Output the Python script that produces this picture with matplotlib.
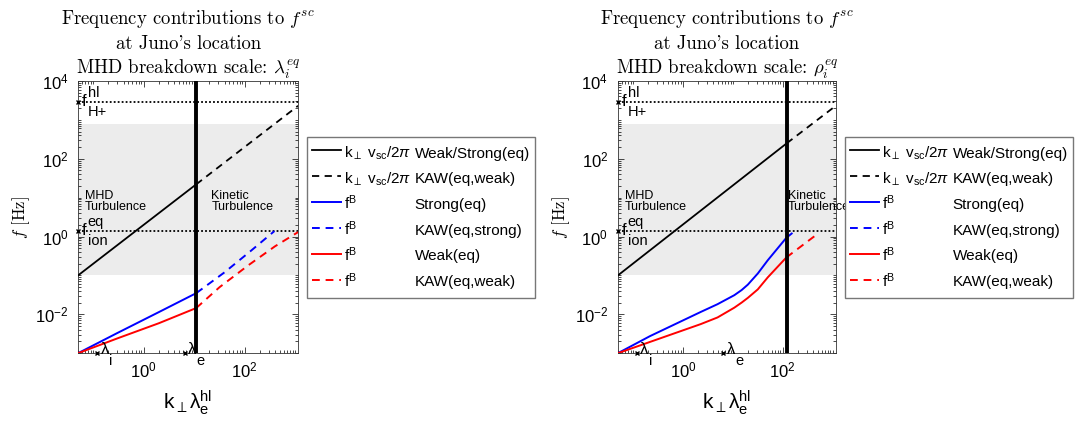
import numpy as np
import matplotlib
matplotlib.use('Agg')
import matplotlib.pyplot as plt
from matplotlib.lines import Line2D
from matplotlib.ticker import FixedLocator, LogLocator, NullFormatter

plt.rcParams['font.family'] = ['Liberation Sans', 'DejaVu Sans']
plt.rcParams['mathtext.fontset'] = 'custom'
plt.rcParams['mathtext.rm'] = 'Liberation Sans'
plt.rcParams['mathtext.it'] = 'Liberation Sans:italic'
plt.rcParams['mathtext.bf'] = 'Liberation Sans:bold'

# ---- data ----
k_lim = [0.05, 1150]
f_lim = [1e-3, 1e4]
f_band = [0.1, 800]          # shaded band
f_H_hl = 2900                # f^hl_H+
f_ion_eq = 1.4               # f^eq_ion
k_lambda_i = 0.12
k_lambda_e = 6.5

# left panel: breakdown at lambda_i^eq
L_break = 11
L_kv_k = [0.05, 11]
L_kv_f = [0.1, 22]
L_kvd_k = [11, 1150]
L_kvd_f = [22, 2300]
L_blue_k = [0.05, 0.3, 2, 11]
L_blue_f = [1e-3, 3.3e-3, 0.0114, 0.035]
L_blued_k = [11, 40, 125, 390]
L_blued_f = [0.035, 0.12, 0.4, 1.38]
L_red_k = [0.05, 0.3, 2, 11]
L_red_f = [1e-3, 2.4e-3, 5.9e-3, 0.0145]
L_redd_k = [11, 32, 117, 400, 1150]
L_redd_f = [0.0145, 0.05, 0.18, 0.56, 1.3]

# right panel: breakdown at rho_i^eq
R_break = 120
R_kv_k = [0.05, 120]
R_kv_f = [0.1, 250]
R_kvd_k = [120, 1150]
R_kvd_f = [250, 2300]
R_blue_k = [0.05, 0.22, 2.28, 4.94, 10.7, 15, 20, 31.6, 50, 118]
R_blue_f = [1e-3, 2.75e-3, 0.0115, 0.0182, 0.031, 0.042, 0.058, 0.112, 0.245, 0.93]
R_blued_k = [118, 170]
R_blued_f = [0.93, 1.35]
R_red_k = [0.05, 0.22, 2.28, 4.94, 10.7, 15, 20, 31.6, 50, 118]
R_red_f = [1e-3, 1.95e-3, 5.6e-3, 8.3e-3, 0.0148, 0.02, 0.0265, 0.0437, 0.089, 0.29]
R_redd_k = [118, 510]
R_redd_f = [0.29, 1.2]

title_lines = ["Frequency contributions to $f^{sc}$", "at Juno's location", "MHD breakdown scale: "]
col1_labels = [r'k$_{\perp}$ v$_{\mathregular{sc}}$/2$\pi$', r'k$_{\perp}$ v$_{\mathregular{sc}}$/2$\pi$',
               r'f$^{\mathregular{B}}$', r'f$^{\mathregular{B}}$', r'f$^{\mathregular{B}}$', r'f$^{\mathregular{B}}$']
col2_labels = ['Weak/Strong(eq)', 'KAW(eq,weak)', 'Strong(eq)', 'KAW(eq,strong)', 'Weak(eq)', 'KAW(eq,weak)']

fig = plt.figure(figsize=(10.84, 4.24), dpi=100)


def sub_label(ax, x, y, main, sup, sub):
    ax.plot([x], [y], marker='x', color='k', ms=3.5, mew=1, clip_on=False, zorder=6)
    ax.annotate(main, (x, y), xytext=(2.5, 0), textcoords='offset points', va='center', ha='left', fontsize=12)
    ax.annotate(sup, (x, y), xytext=(7, 6.5), textcoords='offset points', va='center', ha='left', fontsize=10.5)
    ax.annotate(sub, (x, y), xytext=(7, -7.5), textcoords='offset points', va='center', ha='left', fontsize=10.5)


def draw_panel(ax, sym, k_brk, kv, kvd, blue, blued, red, redd, kin_x, leg_x):
    ax.set_xscale('log')
    ax.set_yscale('log')
    ax.axhspan(f_band[0], f_band[1], color='#ececec', lw=0, zorder=0)
    ax.axhline(f_H_hl, color='k', ls=(0, (1, 1.2)), lw=1.3, zorder=2)
    ax.axhline(f_ion_eq, color='k', ls=(0, (1, 1.2)), lw=1.3, zorder=2)
    ax.axvline(k_brk, color='k', lw=2.8, zorder=4)

    l1, = ax.plot(kv[0], kv[1], color='k', lw=1.3, zorder=3)
    l2, = ax.plot(kvd[0], kvd[1], color='k', lw=1.3, ls=(0, (4, 3)), zorder=3)
    l3, = ax.plot(blue[0], blue[1], color='#0000ff', lw=1.4, zorder=3)
    l4, = ax.plot(blued[0], blued[1], color='#0000ff', lw=1.4, ls=(0, (4, 3)), zorder=3)
    l5, = ax.plot(red[0], red[1], color='#ff0000', lw=1.4, zorder=3)
    l6, = ax.plot(redd[0], redd[1], color='#ff0000', lw=1.4, ls=(0, (4, 3)), zorder=3)

    ax.set_xlim(k_lim)
    ax.set_ylim(f_lim)

    ax.xaxis.set_major_locator(FixedLocator([1, 100]))
    ax.yaxis.set_major_locator(FixedLocator([1e-2, 1, 1e2, 1e4]))
    ax.xaxis.set_minor_locator(LogLocator(base=10, subs=np.arange(1, 10), numticks=100))
    ax.yaxis.set_minor_locator(LogLocator(base=10, subs=np.arange(1, 10), numticks=100))
    ax.xaxis.set_minor_formatter(NullFormatter())
    ax.yaxis.set_minor_formatter(NullFormatter())
    ax.tick_params(which='both', direction='in', top=True, right=True, labelsize=12, width=0.5)
    ax.tick_params(which='major', length=4)
    ax.tick_params(which='minor', length=2)
    ax.tick_params(axis='y', pad=7)
    ax.tick_params(axis='x', pad=5)
    for s in ax.spines.values():
        s.set_linewidth(0.6)
        s.set_color('#333333')

    # three-line title, one text per line
    lines = title_lines[:2] + [title_lines[2] + '$' + sym + '$']
    for line, dy in zip(lines, [41, 23, 5]):
        ax.annotate(line, (0.5, 1), xycoords='axes fraction', xytext=(0, dy), textcoords='offset points',
                    ha='center', va='baseline', fontfamily=['cmr10', 'DejaVu Serif'],
                    math_fontfamily='cm', fontsize=13.5)
    ax.set_ylabel('$f$ [Hz]', fontfamily=['cmr10', 'DejaVu Serif'], math_fontfamily='cm', fontsize=12,
                  labelpad=2)
    ax.set_xlabel(r'k$_{\perp}\mathregular{\lambda}_{\mathregular{e}}^{\mathregular{hl}}$', fontsize=15, labelpad=6)

    ax.text(0.068, 8, 'MHD\nTurbulence', fontsize=9, linespacing=0.8, va='center', ha='left', zorder=5)
    ax.text(kin_x, 8, 'Kinetic\nTurbulence', fontsize=9, linespacing=0.8, va='center', ha='left', zorder=5)

    sub_label(ax, k_lim[0], f_H_hl, 'f', 'hl', 'H+')
    sub_label(ax, k_lim[0], f_ion_eq, 'f', 'eq', 'ion')

    for kl, s in [(k_lambda_i, 'i'), (k_lambda_e, 'e')]:
        ax.plot([kl], [f_lim[0]], marker='x', color='k', ms=3.5, mew=1, clip_on=False, zorder=6)
        ax.annotate('\u03bb', (kl, f_lim[0]), xytext=(2.5, 3), textcoords='offset points',
                    va='center', ha='left', fontsize=12)
        ax.annotate(s, (kl, f_lim[0]), xytext=(8.5, -5.5), textcoords='offset points',
                    va='center', ha='left', fontsize=10.5)

    blank = [Line2D([], [], ls='none') for _ in range(6)]
    ax.legend([l1, l2, l3, l4, l5, l6] + blank, col1_labels + col2_labels, ncol=2,
              loc='upper left', bbox_to_anchor=(leg_x, 0.677), bbox_transform=fig.transFigure,
              borderaxespad=0, fontsize=11, handlelength=1.9, handletextpad=0.2,
              handleheight=1.7, labelspacing=0.33, columnspacing=-1.9, borderpad=0.35,
              fancybox=False, edgecolor='#777777', framealpha=1)


axL = fig.add_axes([0.072, 0.167, 0.203, 0.642])
axR = fig.add_axes([0.570, 0.167, 0.201, 0.642])

draw_panel(axL, r'\lambda_i^{eq}', L_break, (L_kv_k, L_kv_f), (L_kvd_k, L_kvd_f),
           (L_blue_k, L_blue_f), (L_blued_k, L_blued_f), (L_red_k, L_red_f), (L_redd_k, L_redd_f),
           22, 0.283)
draw_panel(axR, r'\rho_i^{eq}', R_break, (R_kv_k, R_kv_f), (R_kvd_k, R_kvd_f),
           (R_blue_k, R_blue_f), (R_blued_k, R_blued_f), (R_red_k, R_red_f), (R_redd_k, R_redd_f),
           128, 0.7795)

fig.savefig('out.png', dpi=100)
